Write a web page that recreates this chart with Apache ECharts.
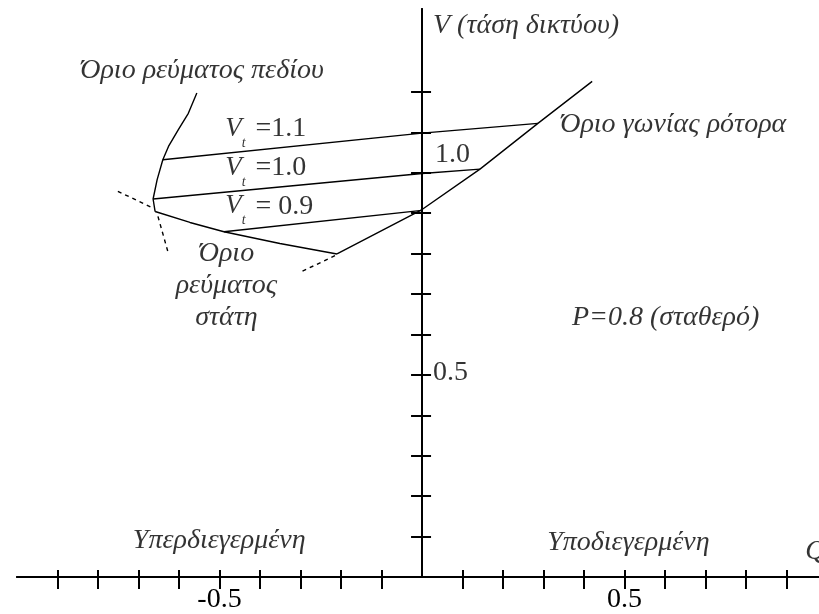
<!DOCTYPE html>
<html>
<head>
<meta charset="utf-8">
<title>Όρια λειτουργίας γεννήτριας</title>
<script src="https://cdn.jsdelivr.net/npm/echarts@6/dist/echarts.min.js"></script>
<style>
  html, body { margin: 0; padding: 0; background: #fff; }
  #chart { width: 819px; height: 614px; }
</style>
</head>
<body>
<div id="chart"></div>
<script>
  // [Q, V] points
  const fieldLimit = [[-0.556, 1.197], [-0.577, 1.147], [-0.602, 1.106], [-0.626, 1.065], [-0.640, 1.032], [-0.654, 0.983], [-0.664, 0.935], [-0.659, 0.904]];
  const statorLimit = [[-0.659, 0.904], [-0.573, 0.877], [-0.489, 0.854], [-0.351, 0.825], [-0.210, 0.799]];
  const rotorLimit = [[-0.210, 0.799], [0, 0.909], [0.143, 1.009], [0.286, 1.122], [0.420, 1.226]];
  const vt11 = [[-0.640, 1.032], [0, 1.098], [0.286, 1.122]];
  const vt10 = [[-0.664, 0.935], [0, 0.998], [0.143, 1.009]];
  const vt09 = [[-0.489, 0.854], [0, 0.907]];
  const dashStator = [[-0.751, 0.954], [-0.667, 0.914]];
  const dashField = [[-0.652, 0.892], [-0.627, 0.803]];
  const dashRotor = [[-0.215, 0.795], [-0.296, 0.756]];

  const xTicks = [-0.9, -0.8, -0.7, -0.6, -0.5, -0.4, -0.3, -0.2, -0.1, 0.1, 0.2, 0.3, 0.4, 0.5, 0.6, 0.7, 0.8, 0.9];
  const yTicks = [0.1, 0.2, 0.3, 0.4, 0.5, 0.6, 0.7, 0.8, 0.9, 1.0, 1.1, 1.2];
  const xLabels = [-0.5, 0.5];

  // text on the picture: [Q, V, text, align]
  const notes = [
    [-0.844, 1.252, '{i|Όριο ρεύματος πεδίου}', 'left'],
    [-0.486, 1.108, '{v|V}{t|t}{n| =1.1}', 'left'],
    [-0.486, 1.012, '{v|V}{t|t}{n| =1.0}', 'left'],
    [-0.486, 0.917, '{v|V}{t|t}{n| = 0.9}', 'left'],
    [0.032, 1.044, '{n|1.0}', 'left'],
    [0.341, 1.118, '{i|Όριο γωνίας ρότορα}', 'left'],
    [-0.483, 0.721, '{i|Όριο}\n{i|ρεύματος}\n{i|στάτη}', 'center'],
    [0.370, 0.642, '{i|P=0.8 (σταθερό)}', 'left'],
    [-0.714, 0.089, '{i|Υπερδιεγερμένη}', 'left'],
    [0.309, 0.086, '{i|Υποδιεγερμένη}', 'left'],
    [0.946, 0.062, '{i|Q}', 'left'],
    [0.027, 1.363, '{i|V (τάση δικτύου)}', 'left'],
    [0.027, 0.506, '{n|0.5}', 'left']
  ];

  const serif = '"Liberation Serif", "DejaVu Serif", serif';
  const richText = {
    i: { fontFamily: serif, fontStyle: 'italic', fontSize: 28, color: '#000', lineHeight: 32 },
    n: { fontFamily: serif, fontSize: 28, color: '#000' },
    v: { fontFamily: serif, fontStyle: 'italic', fontSize: 27, color: '#000' },
    t: { fontFamily: serif, fontStyle: 'italic', fontSize: 14, color: '#000', lineHeight: 14, padding: [28, 3, 0, 0] }
  };

  function curve(data, dashed) {
    return {
      type: 'line',
      data: data,
      showSymbol: false,
      silent: true,
      lineStyle: { color: '#000', width: 1.4, type: dashed ? [4, 4] : 'solid' }
    };
  }

  const myChart = echarts.init(document.getElementById('chart'), null, { renderer: 'canvas' });
  myChart.setOption({
    animation: false,
    backgroundColor: '#fff',
    grid: { left: 17, right: 0, top: 9, bottom: 36 },
    xAxis: [
      {
        type: 'value', min: -1.0, max: 0.98, position: 'bottom',
        splitLine: { show: false },
        axisLine: { lineStyle: { color: '#000', width: 2 } },
        axisTick: { customValues: xTicks, length: 12, lineStyle: { color: '#000', width: 2 } },
        axisLabel: { customValues: xLabels, margin: 9, fontFamily: serif, fontSize: 28, color: '#000' }
      },
      {
        type: 'value', min: -1.0, max: 0.98, position: 'bottom',
        splitLine: { show: false },
        axisLine: { lineStyle: { color: '#000', width: 2 } },
        axisTick: { customValues: xTicks, inside: true, length: 7, lineStyle: { color: '#000', width: 2 } },
        axisLabel: { show: false }
      }
    ],
    yAxis: [
      {
        type: 'value', min: 0, max: 1.405, position: 'left',
        splitLine: { show: false },
        axisLine: { lineStyle: { color: '#000', width: 2 } },
        axisTick: { customValues: yTicks, length: 11, lineStyle: { color: '#000', width: 2 } },
        axisLabel: { show: false }
      },
      {
        type: 'value', min: 0, max: 1.405, position: 'right',
        splitLine: { show: false },
        axisLine: { lineStyle: { color: '#000', width: 2 } },
        axisTick: { customValues: yTicks, length: 9, lineStyle: { color: '#000', width: 2 } },
        axisLabel: { show: false }
      }
    ],
    series: [
      curve(fieldLimit),
      curve(statorLimit),
      curve(rotorLimit),
      curve(vt11),
      curve(vt10),
      curve(vt09),
      curve(dashStator, true),
      curve(dashField, true),
      curve(dashRotor, true),
      {
        type: 'scatter',
        silent: true,
        symbolSize: 1,
        itemStyle: { color: 'transparent' },
        data: notes.map(n => ({
          value: [n[0], n[1]],
          label: {
            show: true,
            position: 'inside',
            align: n[3],
            verticalAlign: 'middle',
            formatter: n[2],
            rich: richText
          }
        }))
      }
    ]
  });
</script>
</body>
</html>
